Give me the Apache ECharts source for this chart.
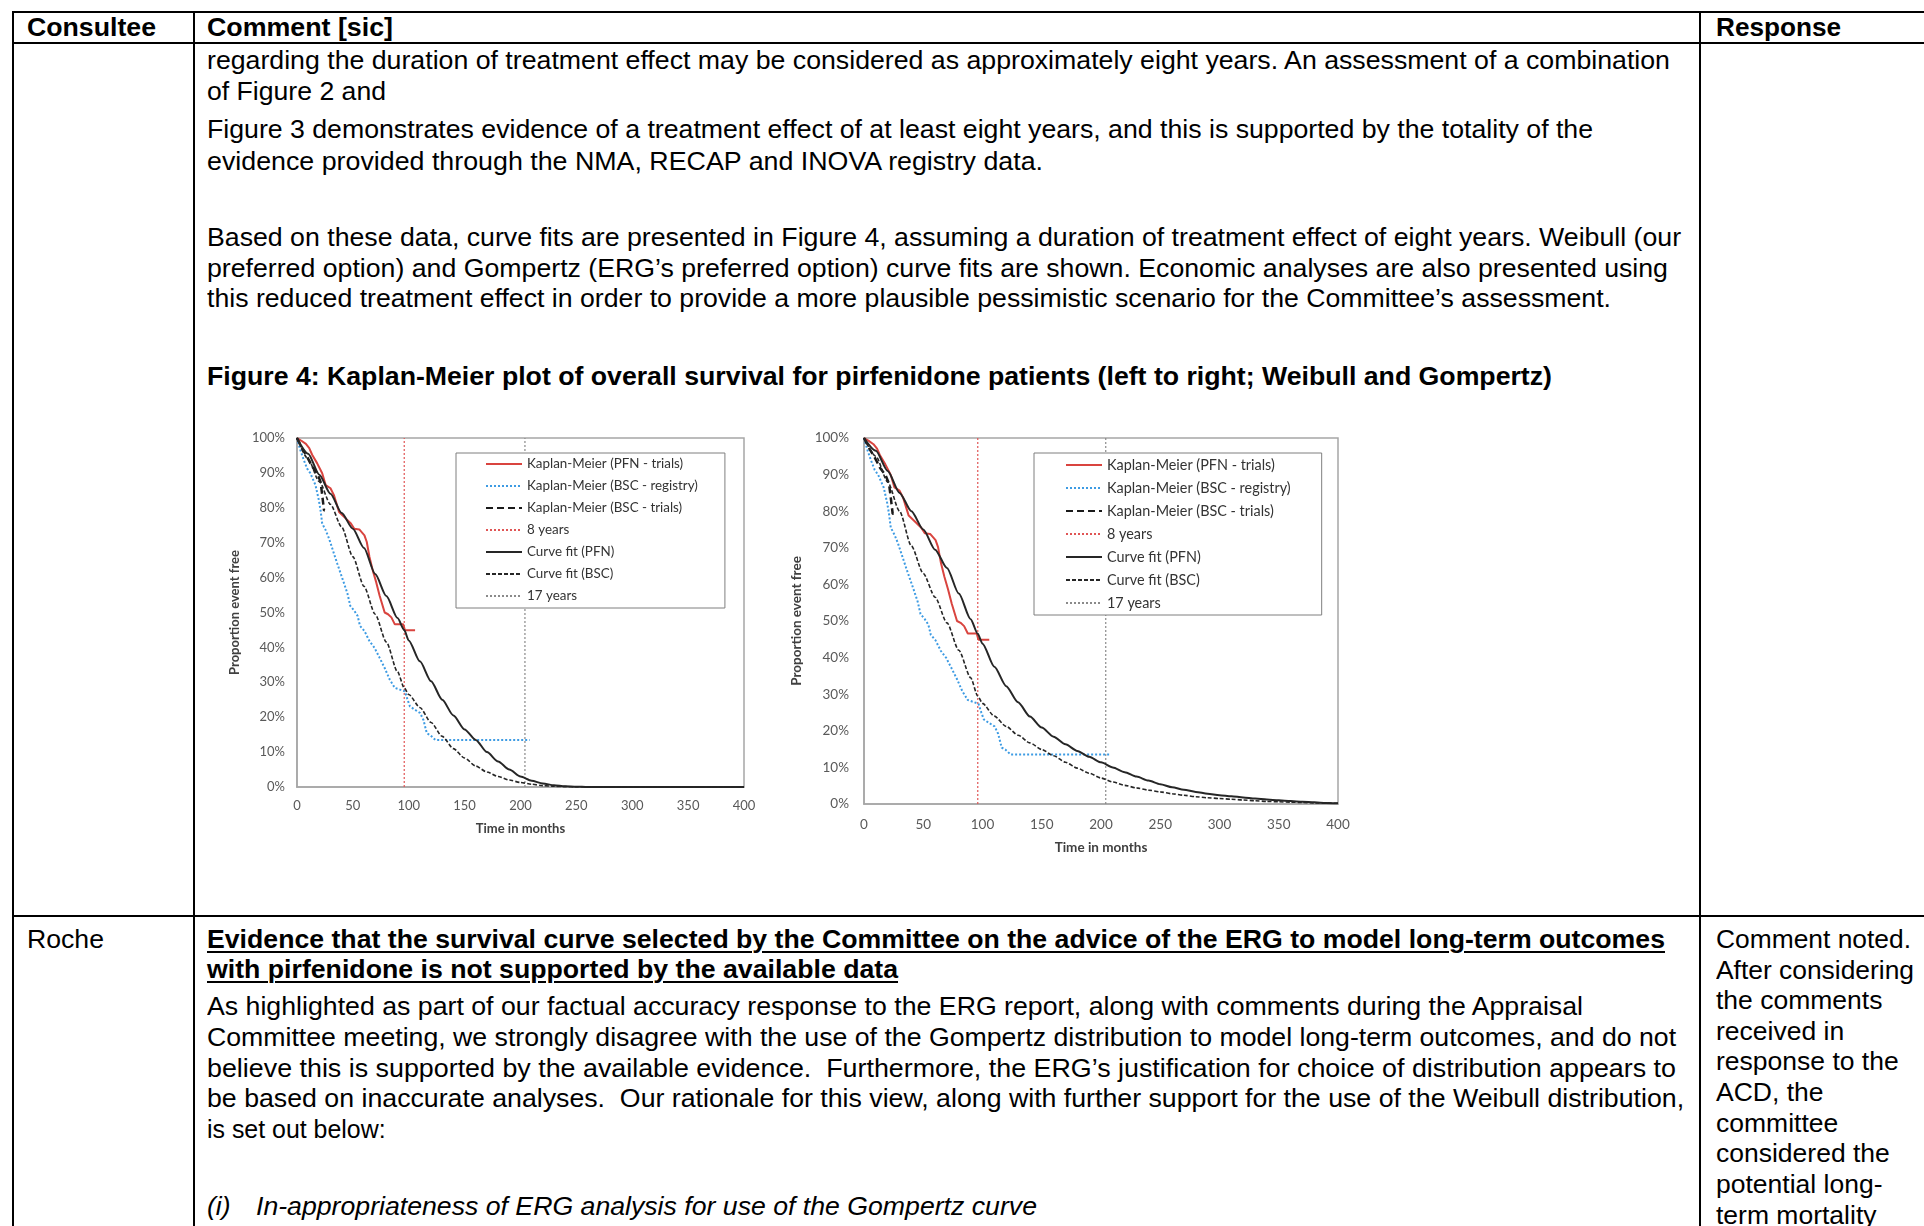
<!DOCTYPE html>
<html>
<head>
<meta charset="utf-8">
<script src="https://cdn.jsdelivr.net/npm/echarts@6/dist/echarts.min.js"></script>
<style>
html,body{margin:0;padding:0;background:#fff;width:1924px;height:1226px;overflow:hidden;}
#page{position:relative;width:1924px;height:1226px;}
.rule{position:absolute;background:#000;}
.ln{position:absolute;white-space:nowrap;font-family:"Liberation Sans",Arial,sans-serif;font-size:26.5px;line-height:26.5px;color:#000;transform-origin:0 0;}
.b{font-weight:bold;}
.u{text-decoration:underline;text-underline-offset:3px;text-decoration-thickness:2px;}
.i{font-style:italic;}
.chart{position:absolute;}
</style>
</head>
<body>
<div id="page">
  <!-- table rules -->
  <div class="rule" style="left:12px;top:11px;width:1912px;height:2px"></div>
  <div class="rule" style="left:12px;top:42px;width:1912px;height:2px"></div>
  <div class="rule" style="left:12px;top:915px;width:1912px;height:2px"></div>
  <div class="rule" style="left:12px;top:11px;width:2px;height:1215px"></div>
  <div class="rule" style="left:193px;top:11px;width:2px;height:1215px"></div>
  <div class="rule" style="left:1699px;top:11px;width:2px;height:1215px"></div>

  <!-- header row -->
  <div class="ln b" style="left:27px;top:14.4px" data-w="129">Consultee</div>
  <div class="ln b" style="left:207px;top:14.4px" data-w="186">Comment [sic]</div>
  <div class="ln b" style="left:1716px;top:14.4px" data-w="125">Response</div>

  <!-- continued comment -->
  <div class="ln" style="left:207px;top:47.4px" data-w="1463">regarding the duration of treatment effect may be considered as approximately eight years. An assessment of a combination</div>
  <div class="ln" style="left:207px;top:78.4px" data-w="179">of Figure 2 and</div>
  <div class="ln" style="left:207px;top:116.4px" data-w="1386">Figure 3 demonstrates evidence of a treatment effect of at least eight years, and this is supported by the totality of the</div>
  <div class="ln" style="left:207px;top:148.4px" data-w="836">evidence provided through the NMA, RECAP and INOVA registry data.</div>
  <div class="ln" style="left:207px;top:224.4px" data-w="1474">Based on these data, curve fits are presented in Figure 4, assuming a duration of treatment effect of eight years. Weibull (our</div>
  <div class="ln" style="left:207px;top:254.9px" data-w="1461">preferred option) and Gompertz (ERG’s preferred option) curve fits are shown. Economic analyses are also presented using</div>
  <div class="ln" style="left:207px;top:285.4px" data-w="1404">this reduced treatment effect in order to provide a more plausible pessimistic scenario for the Committee’s assessment.</div>
  <div class="ln b" style="left:207px;top:362.9px" data-w="1345">Figure 4: Kaplan-Meier plot of overall survival for pirfenidone patients (left to right; Weibull and Gompertz)</div>

  <!-- Roche row -->
  <div class="ln" style="left:27px;top:926.1px" data-w="77">Roche</div>
  <div class="ln b u" style="left:207px;top:926.1px" data-w="1458">Evidence that the survival curve selected by the Committee on the advice of the ERG to model long-term outcomes</div>
  <div class="ln b u" style="left:207px;top:956.4px" data-w="691">with pirfenidone is not supported by the available data</div>
  <div class="ln" style="left:207px;top:993.4px" data-w="1376">As highlighted as part of our factual accuracy response to the ERG report, along with comments during the Appraisal</div>
  <div class="ln" style="left:207px;top:1024.4px" data-w="1469">Committee meeting, we strongly disagree with the use of the Gompertz distribution to model long-term outcomes, and do not</div>
  <div class="ln" style="left:207px;top:1054.9px" data-w="1469">believe this is supported by the available evidence.&nbsp; Furthermore, the ERG’s justification for choice of distribution appears to</div>
  <div class="ln" style="left:207px;top:1085.4px" data-w="1477">be based on inaccurate analyses.&nbsp; Our rationale for this view, along with further support for the use of the Weibull distribution,</div>
  <div class="ln" style="left:207px;top:1116.4px" data-w="173">is set out below:</div>
  <div class="ln i" style="left:207px;top:1193.4px">(i)</div>
  <div class="ln i" style="left:256px;top:1193.4px" data-w="781">In-appropriateness of ERG analysis for use of the Gompertz curve</div>

  <div class="ln" style="left:1716px;top:926.4px" data-w="195">Comment noted.</div>
  <div class="ln" style="left:1716px;top:956.9px" data-w="198">After considering</div>
  <div class="ln" style="left:1716px;top:987.4px">the comments</div>
  <div class="ln" style="left:1716px;top:1018.4px">received in</div>
  <div class="ln" style="left:1716px;top:1048.4px">response to the</div>
  <div class="ln" style="left:1716px;top:1079.4px">ACD, the</div>
  <div class="ln" style="left:1716px;top:1110.4px">committee</div>
  <div class="ln" style="left:1716px;top:1140.4px">considered the</div>
  <div class="ln" style="left:1716px;top:1171.4px">potential long-</div>
  <div class="ln" style="left:1716px;top:1202.4px">term mortality</div>

  <div id="chartWeibull" class="chart" style="left:220px;top:420px;width:540px;height:430px"></div>
  <div id="chartGompertz" class="chart" style="left:780px;top:420px;width:580px;height:450px"></div>
</div>

<script>
// Kaplan-Meier estimates, [month, % event free]
const kmPfnTrials = [[0,100],[4,99.2],[8,98.3],[11,97.1],[13.6,95.2],[18,92.8],[22.6,89.9],[25.7,86.5],[30,85.6],[33,83.7],[37.7,78.8],[43.8,76.9],[48.3,75.5],[51.3,74],[55.8,73.8],[60.4,72.1],[62.5,70.2],[64.9,65.9],[67.9,62],[70.9,58.7],[74,54.8],[78.5,50],[81.5,49.5],[84.5,48.6],[87.6,46.6],[95.1,46.6],[96.6,44.9],[105.7,44.9]];
const kmBscRegistry = [[0,100],[3,96.6],[6,93.8],[9,91.3],[12,89.9],[16.6,86.5],[19.6,82.2],[21.1,79.3],[22.6,75.5],[25.7,73.6],[28.7,71.2],[33.2,66.8],[36.2,63.9],[39.2,61.1],[42.3,58.2],[45.3,55.3],[47.7,51.9],[51.3,50.5],[54.3,49],[56.4,46.2],[60.4,44.7],[64.9,41.8],[69.4,39.9],[74,37],[78.5,34.1],[83,30.8],[87.6,28.4],[92.1,27.9],[96.6,27.4],[99,25],[101.1,23.1],[105.7,22.1],[110.2,21.2],[113.2,19.2],[116.2,15.4],[119.2,14.9],[123.8,13.5],[208.3,13.5]];
const kmBscTrials = [[0,100],[4.5,97.1],[9,94.7],[13.6,91.8],[18.1,89.9],[21.1,87.5],[22.6,83.7],[24.2,83.7],[24.2,79.3],[25,79.3]];

// reference lines (months)
const eightYears = 96;
const seventeenYears = 204;

// fitted survival curves, % event free at each month
const fitMonths = [0,10,20,30,40,50,60,70,80,90,96,100,110,120,130,140,150,160,170,180,190,200,210,220,230,240,250,260,270,280,290,300,310,320,330,340,350,360,370,380,390,400];
const weibullPfn = [100,95.5,89.5,84,78.5,74,68.5,61,54.7,48.4,45,42,36,30.3,25,20.5,16.5,13.5,10,7.3,5,3,1.8,1,0.5,0.2,0.1,0,0,0,0,0,0,0,0,0,0,0,0,0,0,0];
const weibullBsc = [100,94,87.5,81,74.5,66,57.5,49.5,41.5,33,28.4,26.5,22.8,18.5,14.5,11,8.3,6,4.3,3,2,1.3,0.8,0.4,0.2,0.1,0,0,0,0,0,0,0,0,0,0,0,0,0,0,0,0];
const gompertzPfn = [100,96.5,91,85,80,75,69.5,64.5,57.5,50.5,46.5,43.8,37.5,32.2,27.8,23.9,20.9,18.4,16.3,14.5,12.9,11.4,10,8.7,7.5,6.4,5.4,4.6,3.9,3.3,2.8,2.4,2.1,1.8,1.5,1.25,1,0.8,0.6,0.45,0.3,0.2];
const gompertzBsc = [100,95,88,80,70.5,63,56.5,49.5,42,34.5,29.5,27.5,24,21.2,18.8,16.7,14.9,13.2,11.4,9.8,8.4,7.1,6,5.1,4.4,3.8,3.3,2.8,2.4,2,1.7,1.5,1.3,1.1,0.9,0.7,0.6,0.5,0.4,0.3,0.25,0.2];

const seriesNames = ['Kaplan-Meier (PFN - trials)','Kaplan-Meier (BSC - registry)','Kaplan-Meier (BSC - trials)','8 years','Curve fit (PFN)','Curve fit (BSC)','17 years'];

function pairs(xs, ys) { return xs.map((x, i) => [x, ys[i]]); }

function survivalChart(domId, fitPfn, fitBsc, s) {
  const chart = echarts.init(document.getElementById(domId), null, { renderer: 'canvas' });
  const font = 'Lato, "Open Sans", sans-serif';
  const line = (name, data, color, width, type, z, smooth) => ({
    name, type: 'line', data, symbol: 'none', showSymbol: false, silent: true, z: z || 2,
    smooth: smooth || false, smoothMonotone: 'x',
    lineStyle: { color, width, type }, itemStyle: { color }
  });
  chart.setOption({
    animation: false,
    grid: { left: s.grid[0], top: s.grid[1], width: s.grid[2], height: s.grid[3], show: true, borderColor: '#a6a6a6', borderWidth: 1.5, containLabel: false },
    legend: {
      data: seriesNames, orient: 'vertical', left: s.legend[0], top: s.legend[1],
      padding: s.legendPad, itemGap: s.legendGap, itemWidth: 36, itemHeight: 14,
      borderColor: '#7f7f7f', borderWidth: 1, backgroundColor: '#fff',
      itemStyle: { opacity: 0, borderWidth: 0 },
      textStyle: { fontFamily: font, fontSize: s.legendFont, color: '#333', lineHeight: 14 },
      selectedMode: false
    },
    xAxis: {
      type: 'value', min: 0, max: 400, interval: 50,
      axisLine: { show: true, lineStyle: { color: '#a6a6a6', width: 1.5 } },
      axisTick: { show: false }, splitLine: { show: false },
      axisLabel: { color: '#595959', fontFamily: font, fontSize: s.tickFont, margin: s.xLabelMargin },
      name: 'Time in months', nameLocation: 'middle', nameGap: s.xNameGap,
      nameTextStyle: { color: '#404040', fontFamily: font, fontSize: s.titleFont, fontWeight: 'bold' }
    },
    yAxis: {
      type: 'value', min: 0, max: 100, interval: 10,
      axisLine: { show: true, lineStyle: { color: '#a6a6a6', width: 1.5 } },
      axisTick: { show: false }, splitLine: { show: false },
      axisLabel: { color: '#595959', fontFamily: font, fontSize: s.tickFont, margin: s.yLabelMargin, formatter: '{value}%' },
      name: 'Proportion event free', nameLocation: 'middle', nameGap: s.yNameGap, nameRotate: 90,
      nameTextStyle: { color: '#404040', fontFamily: font, fontSize: s.titleFont, fontWeight: 'bold' }
    },
    series: [
      line(seriesNames[0], kmPfnTrials, '#d9443f', 2, 'solid', 4),
      line(seriesNames[1], kmBscRegistry, '#3d9be3', 2, [2, 2], 3),
      line(seriesNames[2], kmBscTrials, '#1a1a1a', 2.5, [7, 4], 5),
      line(seriesNames[3], [[eightYears, 0], [eightYears, 100]], '#e05555', 1.2, [2, 2], 1),
      line(seriesNames[4], pairs(fitMonths, fitPfn), '#262626', 2, 'solid', 6, 0.25),
      line(seriesNames[5], pairs(fitMonths, fitBsc), '#262626', 1.6, [4, 2], 6, 0.25),
      line(seriesNames[6], [[seventeenYears, 0], [seventeenYears, 100]], '#8a8a8a', 1.2, [2, 2], 1)
    ]
  });
  return chart;
}

survivalChart('chartWeibull', weibullPfn, weibullBsc, {
  grid: [75, 18, 449, 349], legend: [236, 33], legendPad: [4, 27, 5, 29], legendGap: 8, legendFont: 13.4,
  tickFont: 13, titleFont: 13, xLabelMargin: 12, yLabelMargin: 12, xNameGap: 35, yNameGap: 54
});
survivalChart('chartGompertz', gompertzPfn, gompertzBsc, {
  grid: [84, 18, 474, 366], legend: [254, 33], legendPad: [5, 31, 5, 31], legendGap: 9, legendFont: 14.4,
  tickFont: 13.5, titleFont: 13.5, xLabelMargin: 14, yLabelMargin: 15, xNameGap: 37, yNameGap: 57
});

// stretch each document line to its set width
function fitLines() {
  document.querySelectorAll('.ln[data-w]').forEach(el => {
    const target = parseFloat(el.dataset.w);
    const actual = el.getBoundingClientRect().width;
    if (actual > 0) {
      let k = target / actual;
      k = Math.max(0.94, Math.min(1.06, k));
      el.style.transform = 'scaleX(' + k.toFixed(4) + ')';
    }
  });
}
fitLines();
</script>
</body>
</html>
